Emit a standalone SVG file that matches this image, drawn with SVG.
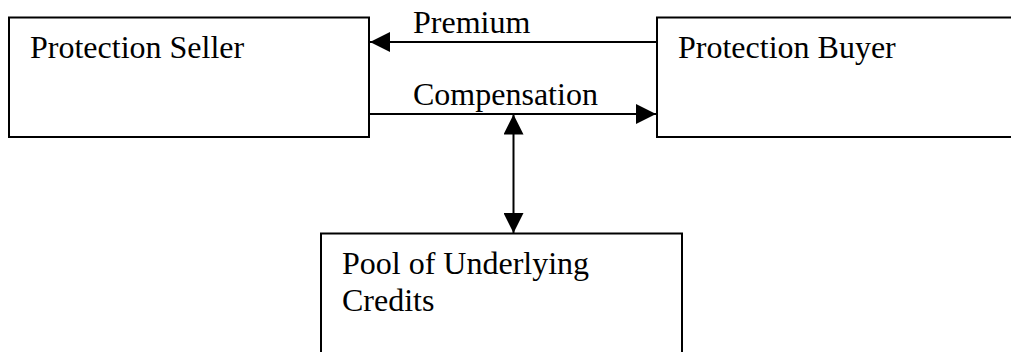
<svg xmlns="http://www.w3.org/2000/svg" width="1011" height="352" viewBox="0 0 1011 352">
<style>
.box{fill:#fff;stroke:#000;stroke-width:2}
.t{font-family:"Liberation Serif","Times New Roman",serif;font-size:32px;fill:#000}
.c{stroke:#000;stroke-width:2;fill:none}
</style>
<defs>
<marker id="ah" viewBox="0 0 20 20" refX="20" refY="10" markerWidth="20" markerHeight="20" markerUnits="userSpaceOnUse" orient="auto-start-reverse">
<path d="M0,0 L20,10 L0,20 Z" fill="#000"/>
</marker>
</defs>
<rect width="1011" height="352" fill="#fff"/>
<g id="seller">
<rect class="box" x="9" y="17.5" width="360" height="119.5"/>
<text class="t" x="30" y="58">Protection Seller</text>
</g>
<g id="buyer">
<rect class="box" x="657" y="17.5" width="370" height="119.5"/>
<text class="t" x="678" y="58">Protection Buyer</text>
</g>
<g id="pool">
<rect class="box" x="321" y="233.5" width="361" height="130"/>
<text class="t" x="342" y="274">Pool of Underlying</text>
<text class="t" x="342" y="311">Credits</text>
</g>
<g id="connectors">
<line class="c" x1="657" y1="42" x2="370" y2="42" marker-end="url(#ah)"/>
<text class="t" x="413" y="33">Premium</text>
<line class="c" x1="369" y1="114" x2="656" y2="114" marker-end="url(#ah)"/>
<text class="t" x="413" y="105">Compensation</text>
<line class="c" x1="513.5" y1="114.5" x2="513.5" y2="233" marker-start="url(#ah)" marker-end="url(#ah)"/>
</g>
</svg>
